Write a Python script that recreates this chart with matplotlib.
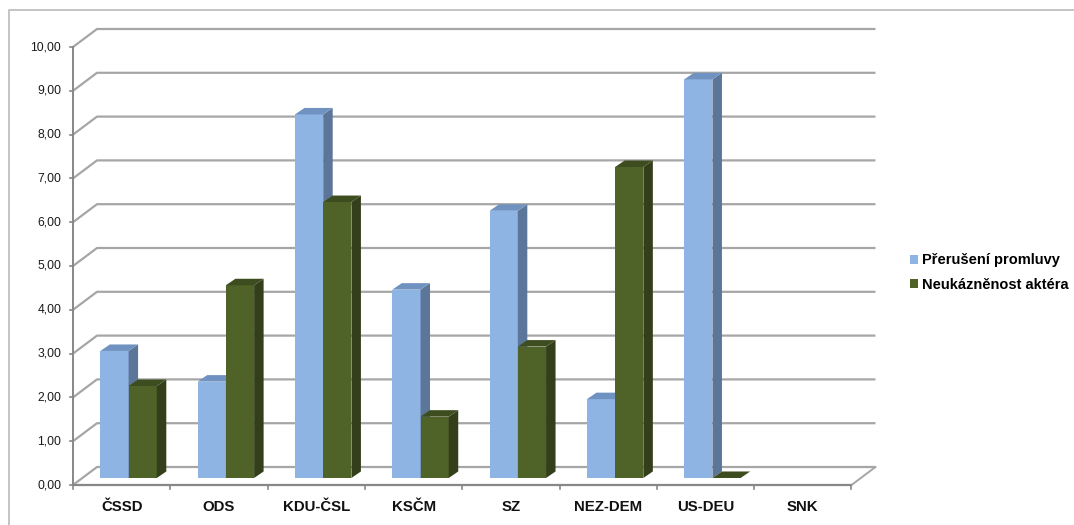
import numpy as np
import matplotlib
matplotlib.use("Agg")
import matplotlib.pyplot as plt
from matplotlib.patches import Polygon, Patch
from matplotlib.lines import Line2D

# --- data -------------------------------------------------------------
categories = ["ČSSD", "ODS", "KDU-ČSL", "KSČM", "SZ", "NEZ-DEM", "US-DEU", "SNK"]
preruseni = [2.9, 2.2, 8.3, 4.3, 6.1, 1.8, 9.1, np.nan]
neukaznenost = [2.1, 4.4, 6.3, 1.4, 3.0, 7.1, 0.0, np.nan]
series_names = ["Přerušení promluvy", "Neukázněnost aktéra"]
y_ticks = [0, 1, 2, 3, 4, 5, 6, 7, 8, 9, 10]

# --- styling ----------------------------------------------------------
W, H, DPI = 1074, 525, 100
face_cols = ["#8EB4E3", "#4F6228"]
side_cols = ["#5B7699", "#333F1A"]
top_cols = ["#7092C0", "#3E4D1F"]
grid_col = "#A6A6A6"
axis_col = "#878787"

plt.rcParams["font.family"] = ["Liberation Sans", "DejaVu Sans"]

fig = plt.figure(figsize=(W / DPI, H / DPI), dpi=DPI)
ax = fig.add_axes([0, 0, 1, 1])

# pixel scale of one category / one unit of value
x_px, y_px = 97.31, 43.8
x0_px, y0_px = 73, 485          # front origin, pixels from left / top
ax.set_xlim(-x0_px / x_px, (W - x0_px) / x_px)
ax.set_ylim(-(H - y0_px) / y_px, y0_px / y_px)
ax.axis("off")

# oblique depth of the plot box (back wall relative to front plane)
DX, DY = 24 / x_px, 18 / y_px
n = len(categories)
ymax = y_ticks[-1]

# back wall gridlines and the short diagonals joining them to the value axis
for v in y_ticks:
    ax.plot([0, DX, n + DX], [v, v + DY, v + DY], color=grid_col, lw=1.6,
            solid_capstyle="butt", zorder=1)
    ax.plot([-0.035, 0], [v, v], color=axis_col, lw=1.2, zorder=2)
    ax.text(-0.12, v, f"{v:.2f}".replace(".", ","), ha="right", va="center",
            fontsize=8.7, color="#1a1a1a")

# value axis, floor front edge and right floor edge
ax.plot([0, 0], [0, ymax], color=axis_col, lw=1.4, zorder=2)
ax.plot([0, n], [0, 0], color=axis_col, lw=1.6, zorder=2)
ax.plot([n, n + DX], [0, DY], color=grid_col, lw=1.4, zorder=2)
for i in range(n + 1):
    ax.plot([i, i], [0, -0.1], color=axis_col, lw=1.2, zorder=2)

# category labels
for i, c in enumerate(categories):
    ax.text(i + 0.5, -0.5, c, ha="center", va="center", fontsize=10.8,
            fontweight="bold", color="#111111")

# 3-D looking bars
bar_w = 0.29
bar_left = 0.185
pos_f = 0.39                     # depth position of the bar front face
dep_x, dep_y = 9.5 / x_px, 6.5 / y_px
ox, oy = pos_f * DX, pos_f * DY

for i in range(n):
    for s, vals in enumerate([preruseni, neukaznenost]):
        v = vals[i]
        if np.isnan(v):
            continue
        xl = i + bar_left + s * bar_w + ox
        xr = xl + bar_w
        yb, yt = oy, oy + v
        z = 3 + i * 0.01 + s * 0.005
        ax.add_patch(Polygon([(xl, yb), (xr, yb), (xr, yt), (xl, yt)],
                             closed=True, fc=face_cols[s], ec="none", zorder=z))
        ax.add_patch(Polygon([(xr, yb), (xr + dep_x, yb + dep_y),
                              (xr + dep_x, yt + dep_y), (xr, yt)],
                             closed=True, fc=side_cols[s], ec="none", zorder=z))
        ax.add_patch(Polygon([(xl, yt), (xr, yt), (xr + dep_x, yt + dep_y),
                              (xl + dep_x, yt + dep_y)],
                             closed=True, fc=top_cols[s], ec="none", zorder=z))

# legend
handles = [Patch(fc=face_cols[k], ec="none") for k in range(2)]
ax.legend(handles, series_names, loc="center left",
          bbox_to_anchor=(910 / W, 1 - 272.5 / H), bbox_transform=fig.transFigure,
          frameon=False, borderpad=0, borderaxespad=0, handlelength=0.55,
          handleheight=0.55, handletextpad=0.3, labelspacing=0.7,
          prop={"size": 10.5, "weight": "bold"})

# chart area border (top and left edges fall inside the image)
fig.add_artist(Line2D([9 / W, 9 / W, 1.0], [0.0, 1 - 10 / H, 1 - 10 / H],
                      transform=fig.transFigure, color="#BFBFBF", lw=1.3))

fig.savefig("out.png", dpi=DPI)
